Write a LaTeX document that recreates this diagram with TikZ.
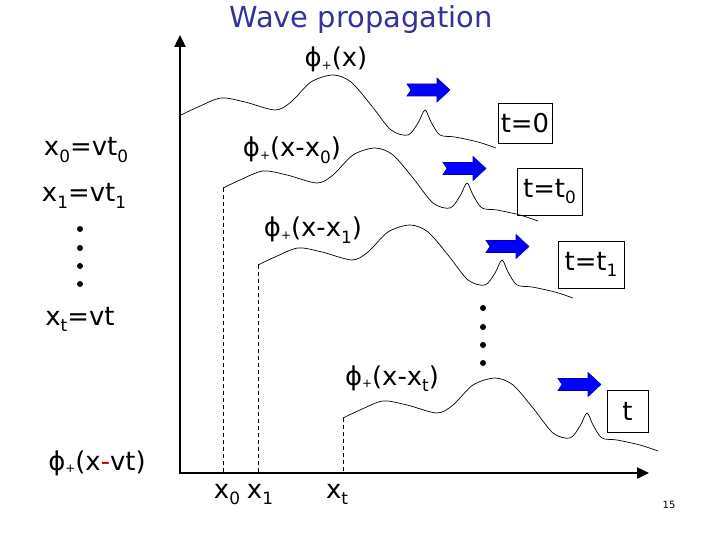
\documentclass[tikz,border=0pt]{standalone}
\usepackage{fontspec}
\setmainfont{DejaVu Sans}
\usetikzlibrary{arrows.meta}
\definecolor{titleblue}{RGB}{51,51,153}
\definecolor{arrowblue}{RGB}{0,0,255}
\definecolor{minusred}{RGB}{204,0,0}
\newcommand\lo[1]{\raisebox{-0.25em}{\fontsize{17}{19}\selectfont #1}}
\newcommand\phip{ϕ\raisebox{-0.1em}{\fontsize{12}{14}\selectfont +}}
\begin{document}
\begin{tikzpicture}[x=1bp,y=-1bp,
  lbl/.style={anchor=base,inner sep=0pt,font=\fontsize{26}{30}\selectfont},
  tbox/.style={draw,line width=0.8bp,inner sep=0pt,font=\fontsize{26}{30}\selectfont},
  wave/.style={line width=0.7bp},
  drop/.style={dash pattern=on 4bp off 3bp,line width=0.7bp},
  axisline/.style={line width=2.4bp,-{Triangle[length=12bp,width=11bp]}},
  dotmark/.style={circle,fill=black,inner sep=0pt,minimum size=6bp},
  bluearrow/.pic={\filldraw[fill=arrowblue,draw=arrowblue!70!black,line width=0.6bp]
     (0,-6) -- (30,-6) -- (30,-12) -- (43,0) -- (30,12) -- (30,6) -- (0,6) -- (4,0) -- cycle;},
  wavepic/.pic={\draw[wave] plot[smooth,tension=0.5] coordinates {(0,0) (17,-8) (40,-17) (64,-13) (94,-5) (110,-13) (130,-33) (152,-40) (170,-33) (190,-10) (210,15) (227,20) (237,8) (244,-5) (250,7) (259,20) (274,22) (297,27) (315,33)};}
]
\useasboundingbox (0,0) rectangle (720,540);
% axes
\coordinate (O) at (180,473);
\coordinate (ytop) at (180,35);
\coordinate (xend) at (649,473);
\draw[axisline] ([yshift=-1.2bp]O) -- (ytop);
\draw[axisline] ([xshift=-1.2bp]O) -- (xend);
% title
\node[lbl,font=\fontsize{29}{33}\selectfont,text=titleblue] (title) at (361,28) {Wave propagation};
% waves
\coordinate (s1) at (181,115);
\coordinate (s2) at (223,188);
\coordinate (s3) at (258,265);
\coordinate (s4) at (343,418);
\pic at (s1) {wavepic};
\pic at (s2) {wavepic};
\pic at (s3) {wavepic};
\pic at (s4) {wavepic};
\draw[drop] (s2) -- (s2 |- O);
\draw[drop] (s3) -- (s3 |- O);
\draw[drop] (s4) -- (s4 |- O);
% wave labels
\node[lbl] (l0) at (336,67) {\phip(x)};
\node[lbl] (l1) at (292,157) {\phip(x-x\lo{0})};
\node[lbl] (l2) at (313,237) {\phip(x-x\lo{1})};
\node[lbl] (l3) at (392,385) {\phip(x-x\lo{t})};
% blue arrows
\pic at (407,90) {bluearrow};
\pic at (443,168.5) {bluearrow};
\pic at (486,246.5) {bluearrow};
\pic at (558,384.5) {bluearrow};
% time boxes
\node[tbox,minimum width=54bp,minimum height=40bp] (b0) at (525,123) {t=0};
\node[tbox,minimum width=65bp,minimum height=47bp] (b1) at (549.5,191.5) {t=t\lo{0}};
\node[tbox,minimum width=66bp,minimum height=47bp] (b2) at (591,264.5) {t=t\lo{1}};
\node[tbox,minimum width=41bp,minimum height=42bp] (b3) at (627.5,411) {t};
% left column
\node[lbl] (e0) at (86,156) {x\lo{0}=vt\lo{0}};
\node[lbl] (e1) at (84,202) {x\lo{1}=vt\lo{1}};
\node[lbl] (et) at (80,325) {x\lo{t}=vt};
\node[lbl] (ef) at (97,470) {\phip(x\textcolor{minusred}{-}vt)};
\foreach \yy [count=\i] in {229,248,266,284} \node[dotmark] (ld\i) at (80,\yy) {};
\foreach \yy [count=\i] in {308,327,345,363} \node[dotmark] (md\i) at (483,\yy) {};
% axis labels
\node[lbl] (ax0) at (227,498) {x\lo{0}};
\node[lbl] (ax1) at (260,498) {x\lo{1}};
\node[lbl] (axt) at (337,498) {x\lo{t}};
% page number
\node[anchor=base,inner sep=0pt,font=\fontsize{10}{12}\selectfont] (pg) at (669,508) {15};
\end{tikzpicture}
\end{document}
